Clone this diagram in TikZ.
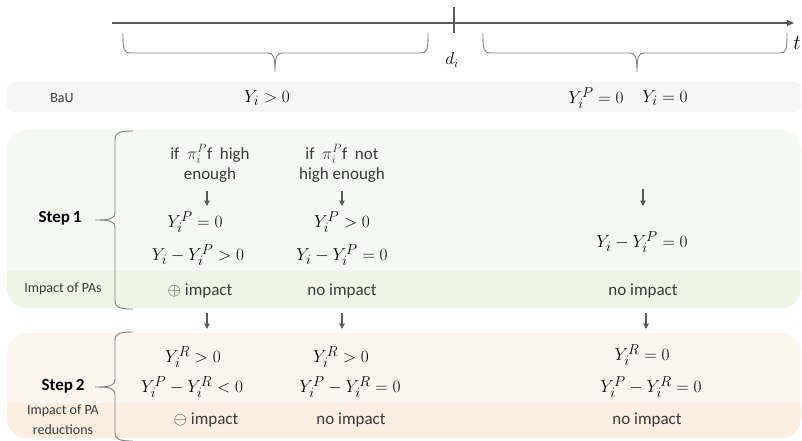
\documentclass[tikz,border=0pt]{standalone}
\usepackage{fontspec}
\setmainfont{Carlito}
\usetikzlibrary{arrows.meta}
\definecolor{ink}{HTML}{3A3A3A}
\definecolor{axis}{HTML}{595959}
\definecolor{bau}{HTML}{F6F6F6}
\definecolor{stepA}{HTML}{F6F9F1}
\definecolor{stepAband}{HTML}{EEF5E6}
\definecolor{stepB}{HTML}{FDF6EF}
\definecolor{stepBband}{HTML}{FCEEE1}
\begin{document}
\begin{tikzpicture}[x=1pt,y=-1pt,
  txt/.style={text=ink, font=\fontsize{17}{20.5}\selectfont, inner sep=0pt, align=center},
  lbl/.style={text=ink, font=\fontsize{14}{20}\selectfont, inner sep=0pt, align=center},
  steplbl/.style={text=black, font=\fontsize{17}{20}\selectfont\bfseries, inner sep=0pt},
  eq/.style={text=black, font=\fontsize{19}{20}\selectfont, inner sep=0pt},
  flow/.style={draw=axis, line width=1.2pt, -{Triangle[length=5.5pt,width=5.5pt]}},
  timeaxis/.style={draw=axis, line width=1.4pt},
  brace/.style={draw=black!50, line width=0.9pt},
]
\useasboundingbox (0,0) rectangle (802,440);

% background bands
\fill[bau, rounded corners=6pt] (7,82) rectangle (801,112);
\begin{scope}
  \clip[rounded corners=20pt] (7,130) rectangle (801,308);
  \fill[stepA] (7,130) rectangle (801,308);
  \fill[stepAband] (7,271) rectangle (801,308);
\end{scope}
\begin{scope}
  \clip[rounded corners=20pt] (7,333) rectangle (801,438);
  \fill[stepB] (7,333) rectangle (801,438);
  \fill[stepBband] (7,403) rectangle (801,438);
\end{scope}

% time axis
\coordinate (t0) at (112,23);
\coordinate (t1) at (794,23);
\coordinate (tickTop) at (454,7);
\coordinate (tickBot) at (454,33);
\draw[timeaxis, -{Triangle[length=7pt,width=6pt]}] (t0) -- (t1);
\draw[timeaxis] (tickTop) -- (tickBot);
\node[eq, font=\fontsize{18}{20}\selectfont] (di) at (452,60) {$d_i$};
\node[eq, font=\fontsize{20}{20}\selectfont, anchor=east] (tl) at (801,43) {$t$};

% braces under the axis
\draw[brace] (123,33) .. controls (123,50) and (124,53) .. (130,53) -- (268,53)
  .. controls (273,53) and (275,56) .. (275,72)
  .. controls (275,56) and (277,53) .. (282,53) -- (421,53)
  .. controls (427,53) and (428,50) .. (428,33);
\draw[brace] (483,33) .. controls (483,50) and (484,53) .. (490,53) -- (630,53)
  .. controls (635,53) and (637,56) .. (637,72)
  .. controls (637,56) and (639,53) .. (644,53) -- (780,53)
  .. controls (786,53) and (787,50) .. (787,33);

% BaU row
\node[lbl] (bau) at (62,98) {BaU};
\node[eq] (bauL) at (267,98) {$Y_i>0$};
\node[eq] (bauR1) at (596,98) {$Y_i^P=0$};
\node[eq] (bauR2) at (665,98) {$Y_i=0$};

% Step 1
\node[steplbl] (s1) at (60,218) {Step\,1};
\node[lbl] (s1imp) at (63,289) {Impact of PAs};
\draw[brace] (133,131) .. controls (118,131) and (115,133) .. (115,140) -- (115,212)
  .. controls (115,219) and (110,220) .. (95,220)
  .. controls (110,220) and (115,221) .. (115,228) -- (115,300)
  .. controls (115,307) and (118,309) .. (133,309);

\node[txt] (a1) at (210,163.5) {if \ $\pi_i^P$f \ high\\enough};
\node[txt] (b1) at (342,163.5) {if \ $\pi_i^P$f \ not\\high enough};
\coordinate (a1s) at (207,191); \coordinate (a1e) at (207,206);
\coordinate (b1s) at (342,191); \coordinate (b1e) at (342,206);
\coordinate (c1s) at (643,189); \coordinate (c1e) at (643,206);
\draw[flow] (a1s) -- (a1e);
\draw[flow] (b1s) -- (b1e);
\draw[flow] (c1s) -- (c1e);

\node[eq] (a2) at (195,222) {$Y_i^P=0$};
\node[eq] (a3) at (198,255) {$Y_i-Y_i^P>0$};
\node[txt] (a4) at (200,291) {$\oplus$ impact};
\node[eq] (b2) at (342,222) {$Y_i^P>0$};
\node[eq] (b3) at (342,255) {$Y_i-Y_i^P=0$};
\node[txt] (b4) at (342,291) {no impact};
\node[eq] (c3) at (642,242) {$Y_i-Y_i^P=0$};
\node[txt] (c4) at (643,291) {no impact};

% arrows from step 1 to step 2
\coordinate (a2s) at (207,313); \coordinate (a2e) at (207,329);
\coordinate (b2s) at (342,313); \coordinate (b2e) at (342,329);
\coordinate (c2s) at (646,313); \coordinate (c2e) at (646,329);
\draw[flow] (a2s) -- (a2e);
\draw[flow] (b2s) -- (b2e);
\draw[flow] (c2s) -- (c2e);

% Step 2
\node[steplbl] (s2) at (63,386) {Step\,2};
\node[lbl] (s2imp) at (63,420) {Impact of PA\\reductions};
\draw[brace] (133,332) .. controls (118,332) and (115,334) .. (115,341) -- (115,379)
  .. controls (115,386) and (110,387) .. (95,387)
  .. controls (110,387) and (115,388) .. (115,395) -- (115,432)
  .. controls (115,439) and (118,441) .. (133,441);

\node[eq] (a5) at (193,357) {$Y_i^R>0$};
\node[eq] (a6) at (192,387) {$Y_i^P-Y_i^R<0$};
\node[txt] (a7) at (206,420) {$\ominus$ impact};
\node[eq] (b5) at (341,357) {$Y_i^R>0$};
\node[eq] (b6) at (350,387) {$Y_i^P-Y_i^R=0$};
\node[txt] (b7) at (351,420) {no impact};
\node[eq] (c5) at (642,355) {$Y_i^R=0$};
\node[eq] (c6) at (651,387) {$Y_i^P-Y_i^R=0$};
\node[txt] (c7) at (647,420) {no impact};
\end{tikzpicture}
\end{document}
